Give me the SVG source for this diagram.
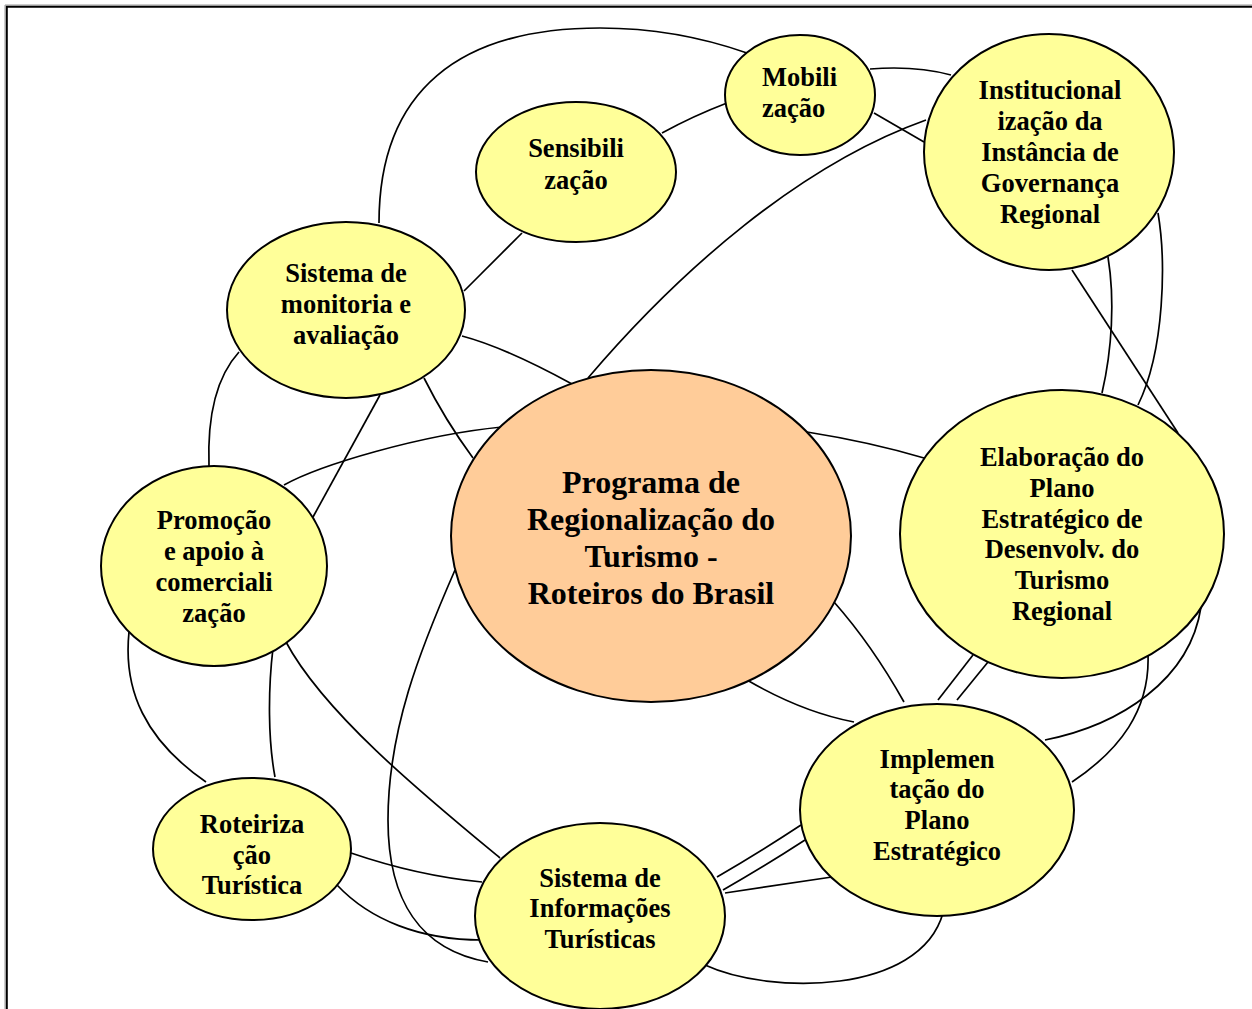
<svg xmlns="http://www.w3.org/2000/svg" width="1252" height="1009" viewBox="0 0 1252 1009">
<style>
.bg{fill:#ffffff}
.edge{fill:none;stroke:#000;stroke-width:1.7}
.node{fill:#FFFF99;stroke:#000;stroke-width:2}
.core{fill:#FFCC99;stroke:#000;stroke-width:2}
.t{font-family:"Liberation Serif","Times New Roman",serif;font-weight:bold;font-size:26.5px;fill:#000;text-anchor:middle}
.tl{text-anchor:start}
.tc{font-size:32px}
</style>
<rect class="bg" x="0" y="0" width="1252" height="1009"/>
<path d="M5,1009 V5 H1252" fill="none" stroke="#999" stroke-width="1"/>
<path d="M6.8,1009 V6.8 H1252" fill="none" stroke="#000" stroke-width="2"/>
<g id="connectors">
<path class="edge" d="M379,223 C379,90 460,28 600,28 C660,28 710,40 747,53"/>
<path class="edge" d="M522,233 L464,291"/>
<path class="edge" d="M462,336 Q504,347 572,384"/>
<path class="edge" d="M424,378 Q445,420 473,458"/>
<path class="edge" d="M380,395 L313,517"/>
<path class="edge" d="M239,352 C218,375 207,410 209,466"/>
<path class="edge" d="M284,485 C320,465 420,435 502,427"/>
<path class="edge" d="M588,378 C680,270 800,165 926,120"/>
<path class="edge" d="M662,133 Q693,116 727,103"/>
<path class="edge" d="M870,69 C895,67 925,68 951,75"/>
<path class="edge" d="M874,113 L924,142"/>
<path class="edge" d="M1158,213 C1166,260 1165,350 1138,405"/>
<path class="edge" d="M1108,257 C1115,300 1112,350 1102,393"/>
<path class="edge" d="M1072,270 L1178,433"/>
<path class="edge" d="M807,432 Q870,442 924,458"/>
<path class="edge" d="M129,632 C123,690 145,740 206,782"/>
<path class="edge" d="M273,648 C268,690 268,740 275,777"/>
<path class="edge" d="M286,642 C325,715 430,800 500,858"/>
<path class="edge" d="M455,570 C420,650 388,730 388,820 C388,900 420,950 488,962"/>
<path class="edge" d="M351,853 C395,868 440,878 482,882"/>
<path class="edge" d="M337,885 C370,920 420,940 482,940"/>
<path class="edge" d="M705,965 C770,995 920,995 943,913"/>
<path class="edge" d="M717,877 Q760,852 801,825"/>
<path class="edge" d="M723,890 Q765,866 805,840"/>
<path class="edge" d="M725,893 Q780,885 832,877"/>
<path class="edge" d="M834,602 Q872,645 904,702"/>
<path class="edge" d="M747,680 Q802,712 854,722"/>
<path class="edge" d="M973,655 L938,700"/>
<path class="edge" d="M988,662 L957,700"/>
<path class="edge" d="M1148,655 C1150,710 1120,750 1072,782"/>
<path class="edge" d="M1201,607 C1190,680 1120,725 1045,740"/>
</g>
<g id="n-mobilizacao">
<ellipse class="node" cx="800" cy="95" rx="75" ry="60"/>
<text class="t tl" x="762" y="86">Mobili</text>
<text class="t tl" x="762" y="117">zação</text>
</g>
<g id="n-sensibilizacao">
<ellipse class="node" cx="576" cy="172" rx="100" ry="70"/>
<text class="t" x="576" y="157">Sensibili</text>
<text class="t" x="576" y="189">zação</text>
</g>
<g id="n-institucionalizacao">
<ellipse class="node" cx="1049" cy="152" rx="125" ry="118"/>
<text class="t" x="1050" y="99">Institucional</text>
<text class="t" x="1050" y="130">ização da</text>
<text class="t" x="1050" y="161">Instância de</text>
<text class="t" x="1050" y="192">Governança</text>
<text class="t" x="1050" y="223">Regional</text>
</g>
<g id="n-monitoria">
<ellipse class="node" cx="346" cy="310" rx="119" ry="88"/>
<text class="t" x="346" y="282">Sistema de</text>
<text class="t" x="346" y="313">monitoria e</text>
<text class="t" x="346" y="344">avaliação</text>
</g>
<g id="n-programa">
<ellipse class="core" cx="651" cy="536" rx="200" ry="166"/>
<text class="t tc" x="651" y="493">Programa de</text>
<text class="t tc" x="651" y="530">Regionalização do</text>
<text class="t tc" x="651" y="567">Turismo -</text>
<text class="t tc" x="651" y="604">Roteiros do Brasil</text>
</g>
<g id="n-promocao">
<ellipse class="node" cx="214" cy="566" rx="113" ry="100"/>
<text class="t" x="214" y="529">Promoção</text>
<text class="t" x="214" y="560">e apoio à</text>
<text class="t" x="214" y="591">comerciali</text>
<text class="t" x="214" y="622">zação</text>
</g>
<g id="n-elaboracao">
<ellipse class="node" cx="1062" cy="534" rx="162" ry="144"/>
<text class="t" x="1062" y="466">Elaboração do</text>
<text class="t" x="1062" y="497">Plano</text>
<text class="t" x="1062" y="528">Estratégico de</text>
<text class="t" x="1062" y="558">Desenvolv. do</text>
<text class="t" x="1062" y="589">Turismo</text>
<text class="t" x="1062" y="620">Regional</text>
</g>
<g id="n-implementacao">
<ellipse class="node" cx="937" cy="810" rx="137" ry="106"/>
<text class="t" x="937" y="768">Implemen</text>
<text class="t" x="937" y="798">tação do</text>
<text class="t" x="937" y="829">Plano</text>
<text class="t" x="937" y="860">Estratégico</text>
</g>
<g id="n-roteirizacao">
<ellipse class="node" cx="252" cy="849" rx="99" ry="71"/>
<text class="t" x="252" y="833">Roteiriza</text>
<text class="t" x="252" y="864">ção</text>
<text class="t" x="252" y="894">Turística</text>
</g>
<g id="n-informacoes">
<ellipse class="node" cx="600" cy="916" rx="125" ry="93"/>
<text class="t" x="600" y="887">Sistema de</text>
<text class="t" x="600" y="917">Informações</text>
<text class="t" x="600" y="948">Turísticas</text>
</g>
</svg>
